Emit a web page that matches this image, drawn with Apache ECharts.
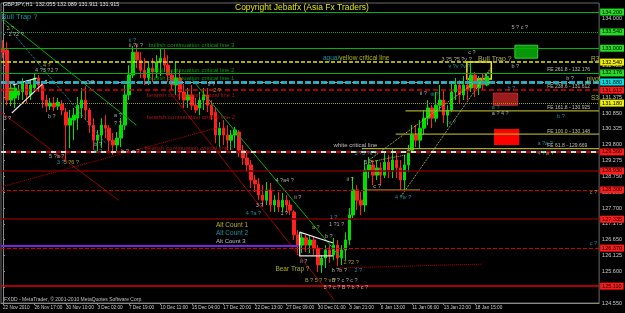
<!DOCTYPE html>
<html><head><meta charset="utf-8">
<script src="https://cdn.jsdelivr.net/npm/echarts@6/dist/echarts.min.js"></script>
<style>html,body{margin:0;padding:0;background:#000;}#c{width:625px;height:313px;}</style>
</head><body><div id="c"></div>
<script>
// ---------- data ----------
const dateLabels = ['22 Nov 2010','26 Nov 17:00','30 Nov 10:00','3 Dec 02:00','7 Dec 19:00','10 Dec 11:00','15 Dec 04:00','17 Dec 20:00','22 Dec 13:00','27 Dec 09:00','30 Dec 01:00','3 Jan 21:00','6 Jan 13:00','11 Jan 06:00','13 Jan 22:00','18 Jan 15:00'];
const candleOpen = [133.00,132.94,131.28,131.35,131.45,131.55,131.81,131.45,131.68,132.01,131.78,131.28,131.08,131.18,131.08,131.15,130.88,130.45,130.62,130.68,131.02,131.28,130.95,130.45,129.95,130.12,130.45,130.35,129.95,129.79,130.02,130.45,131.45,132.11,132.87,132.61,132.27,132.01,132.34,132.21,132.54,132.67,132.44,132.11,131.78,132.01,131.55,131.28,131.45,131.11,131.02,131.28,131.45,131.11,130.88,130.12,130.35,130.12,129.95,130.12,130.22,129.62,129.36,129.13,128.63,128.50,128.13,127.96,128.30,127.80,127.96,127.73,127.96,127.80,127.57,126.81,126.47,126.71,126.47,126.64,126.37,125.81,126.04,126.31,126.14,126.47,126.04,126.31,126.64,127.47,128.30,127.96,127.80,128.96,129.13,128.79,129.03,128.79,129.22,128.96,129.29,129.03,128.63,129.13,129.62,130.12,129.95,130.35,130.68,131.02,130.68,131.11,131.28,130.78,130.95,131.55,131.78,131.45,131.78,131.68,132.11,131.68,131.94,131.78];
const candleClose = [132.87,131.28,131.68,131.68,131.61,131.88,131.45,131.78,132.01,131.78,131.28,131.08,131.18,131.05,131.21,130.95,130.45,130.68,130.78,131.11,131.28,130.95,130.45,129.95,130.12,130.45,130.35,129.95,129.79,130.02,130.45,131.45,132.11,132.87,132.61,132.27,132.01,132.34,132.21,132.54,132.67,132.44,132.11,131.78,132.01,131.55,131.28,131.45,131.11,130.95,131.28,131.45,131.11,130.78,130.12,130.35,130.12,129.95,130.12,130.29,129.62,129.36,129.13,128.63,128.50,128.13,127.96,128.30,127.80,127.96,127.73,127.96,127.80,127.63,126.81,126.47,126.71,126.47,126.64,126.37,125.81,126.04,126.31,126.14,126.47,126.04,126.31,126.64,127.47,128.30,127.96,127.80,128.96,129.13,128.79,129.03,128.79,129.22,128.96,129.29,129.03,128.63,129.13,129.62,130.12,129.95,130.35,130.68,131.02,130.68,131.11,131.28,130.78,130.95,131.55,131.78,131.45,131.78,131.61,132.11,131.68,131.94,131.78,132.06];
const candleLow = [132.67,131.11,131.08,131.02,131.28,131.28,131.18,131.28,131.55,131.55,131.02,130.88,130.95,130.92,130.95,130.78,129.29,129.69,129.95,130.29,130.68,130.62,130.19,129.62,129.52,129.69,130.02,129.56,129.46,129.56,129.72,130.29,131.28,132.01,132.34,132.01,131.78,131.78,131.88,132.01,132.08,132.21,131.88,131.61,131.45,131.28,131.02,131.02,130.95,130.85,130.78,130.95,130.88,130.62,129.85,129.72,129.79,129.62,129.62,129.69,129.39,129.13,128.89,128.36,128.23,127.96,127.73,127.80,127.57,127.57,127.57,127.57,127.57,127.47,126.64,126.14,126.21,126.24,126.21,126.14,125.58,125.55,125.71,125.88,125.97,125.78,125.81,125.97,126.47,127.37,127.63,127.47,127.57,128.69,128.46,128.63,128.46,128.69,128.69,128.69,128.69,128.30,128.30,128.89,129.56,129.72,129.69,130.12,130.45,130.35,130.55,130.95,130.52,130.39,130.88,131.28,131.18,131.28,131.28,131.55,131.38,131.45,131.61,131.74];
const candleHigh = [133.27,133.20,131.88,131.81,131.78,132.01,131.94,131.94,132.18,132.11,131.88,131.45,131.35,131.38,131.35,131.28,131.02,130.95,131.02,131.38,131.68,131.74,131.02,130.68,130.29,130.68,130.78,130.45,130.19,130.22,130.68,131.78,132.44,133.07,133.10,132.87,132.67,132.54,132.67,132.77,133.00,133.00,132.77,132.27,132.54,132.27,131.81,131.68,131.78,131.35,131.55,131.68,131.68,131.28,131.02,130.55,130.62,130.45,130.29,130.39,130.29,129.79,129.62,129.29,128.79,128.69,128.46,128.56,128.53,128.13,128.23,128.20,128.13,127.96,127.63,126.97,126.87,126.81,126.77,126.74,126.47,126.14,126.47,126.47,126.71,126.64,126.47,126.90,127.70,128.73,128.46,128.23,129.29,129.39,129.29,129.29,129.22,129.56,129.46,129.69,129.52,129.29,129.46,129.79,130.45,130.45,130.62,130.95,131.28,131.11,131.55,131.78,131.61,131.11,131.88,132.01,131.94,132.08,132.21,132.54,132.21,132.08,132.18,132.18];
const levelPrices = [134.20,133.54,133.00,132.54,132.176,131.88,131.612,131.18,129.56,128.93,128.30,127.335,126.37,125.11];
const feRatios = ['261.8','238.6','161.8','100.0','61.8'];
const feValues = [132.176,131.612,130.925,130.148,129.669];
const feLineStart = [null,null,102.3,99.8,91.2];
const purpleLine = [[-0.5,126.44],[75.1,126.44]];
const greenLines = [[[-0.25,134.00],[33.9,130.45]],[[48.2,131.94],[85.9,126.04]]];
const tealDotLines = [[[-0.25,133.93],[26.1,129.85]]];
const darkRedLines = [[[42.0,131.61],[84.2,124.65]],[[-0.5,130.88],[29.4,127.96]]];
const redDotLines = [[[-0.5,128.40],[55.3,130.39]],[[84.7,125.71],[121.6,125.84]]];
const whiteLines = [[[2.5,131.78],[8.55,132.01]],[[2.26,130.85],[11.06,131.94]],[[83.9,126.54],[75.4,126.90],[75.4,126.11],[83.9,126.11]]];
const yellowLines = [[[93.0,129.29],[124.1,132.27]],[[101.0,128.06],[124.1,132.37]],[[93.0,129.22],[102.3,129.46]]];
const oliveLines = [[[92.2,128.30],[106.0,128.30]]];
const zones = [[[130.1,133.10],[135.9,132.67]],[[124.6,131.51],[130.8,131.11]],[[124.8,130.32],[131.2,129.79]],[[117.9,132.54],[124.1,131.98]]];
const whiteText = [[1.26,133.44,'2 ?2 ?'],[8.04,132.27,'4 ?3 ?2 ?'],[21.1,131.88,'2 ?'],[0.0,130.68,'3 ?'],[11.3,130.75,'b ?'],[11.6,129.42,'5 ?a ?'],[23.1,129.82,'b ?'],[28.1,130.78,'a ?'],[29.9,129.56,'b ?  a ?'],[31.9,133.10,'ii ?ii ?'],[52.0,131.81,'ii ?'],[69.1,128.63,'4 ?a4 ?'],[64.1,127.80,'3 ?'],[70.4,127.53,'1 ?'],[73.9,128.06,'ii ?'],[87.2,128.66,'ii ?'],[91.7,129.22,'5 ?'],[94.0,128.40,'c ?'],[105.8,131.51,'ii ?'],[118.1,132.87,'c ?'],[129.1,133.70,'5 ? c ?'],[129.1,132.41,'b ?'],[143.0,131.98,'b ?'],[124.1,130.82,'a ? 4 ?'],[75.4,125.94,'ii ?'],[83.4,125.64,'b ?b ?'],[83.4,125.31,'B ? c ? c ?'],[82.7,127.17,'1 ?1 ?'],[81.7,126.77,'b ?'],[111.3,132.64,'3 ?5 ?5 ?v ?'],[81.4,125.05,'5 ? c ? B ? b ? c ?']];
const tealText = [[31.9,133.27,'ii ?'],[13.6,129.22,'3 ?'],[23.1,129.56,'b ?'],[61.6,127.53,'4 ?a ?'],[89.2,129.52,'3 ?3 ?ii ?'],[99.5,128.06,'4 ?iv ?'],[112.8,130.55,'iv ?'],[108.5,131.45,'iii ?'],[113.1,132.41,'v ?v ?v ?'],[128.1,131.68,'b ?'],[124.1,131.05,'a ?'],[140.7,130.75,'b ?'],[135.7,129.85,'a ?a ?'],[135.7,129.52,'4 ?'],[149.0,126.51,'c ?'],[89.2,125.64,'2 ?'],[82.9,127.40,'1 ?']];
const yellowText = [[0.76,133.67,'2 ?'],[10.05,132.44,'4 ?'],[15.3,129.22,'5 ?6 ?'],[28.1,130.52,'? ?'],[53.3,131.61,'2 ?'],[137.9,129.52,'a ?'],[149.0,128.20,'c ?'],[86.4,125.91,'2 ?2 ?'],[78.4,127.04,'a ?'],[76.6,125.31,'B ? 5 ? ? v ?']];
const bullishText = [[36.9,133.10,'bullish continuation critical line 3'],[36.9,132.27,'bullish continuation critical line 2'],[36.9,132.01,'bullish continuation critical line 1']];
const bearishText = [[36.4,131.45,'bearish continuation critical line 1'],[36.4,130.72,'bearish continuation critical line 2'],[35.9,129.69,'bearish continuation critical line 3']];
const bigText = [[54.0,127.14,'Alt Count 1'],[54.0,126.87,'Alt Count 2'],[54.0,126.61,'Alt Count 3'],[69.1,125.68,'Bear Trap ?'],[-0.5,134.03,'Bull Trap ?'],[120.6,132.64,'Bull Trap ?'],[83.9,129.79,'white critical line'],[81.2,132.67,'aqua/yellow critical line']];
const pivotText = [[149.3,132.64,'R3'],[148.2,131.98,'pivot'],[149.3,131.35,'S3']];

// ---------- build ----------
const NCAT = 152;
const cats = Array.from({length: NCAT}, (_, i) => 'c' + i);
const FONT = 'Liberation Sans';
const levelStyle = [
  {c:'#00b400', w:1, t:'solid', bg:'#22dd22'},
  {c:'#159a55', w:1, t:'dotted', bg:'#22dd22'},
  {c:'#00b400', w:1, t:'solid', bg:'#22dd22'},
  {c:'#e6e600', w:1.5, t:[4,2], bg:'#eeee00'},
  {c:'#00b400', w:1, t:'solid', bg:'#22dd22'},
  {c:'#1ea8b8', w:3, t:[6,2], bg:'#00e0e0'},
  {c:'#e00000', w:1.5, t:[5,3], bg:'#ff1a1a'},
  {c:'#a0a000', w:1, t:'dotted', bg:'#eeee00'},
  {c:'#c00000', w:2, t:'solid', bg:'#ff1a1a'},
  {c:'#7a0000', w:1.5, t:'solid', bg:'#ff1a1a'},
  {c:'#d00000', w:1, t:[4,2], bg:'#ff1a1a'},
  {c:'#7a0000', w:1.5, t:'solid', bg:'#ff1a1a'},
  {c:'#d00000', w:1, t:[4,2], bg:'#ff1a1a'},
  {c:'#e00000', w:1.5, t:'solid', bg:'#ff1a1a'}
];
const levelMarks = levelPrices.map((p, i) => ({
  yAxis: p,
  lineStyle: {color: levelStyle[i].c, width: levelStyle[i].w, type: levelStyle[i].t},
  label: {show: true, position: 'end', distance: 1, formatter: p.toFixed(3), backgroundColor: levelStyle[i].bg,
          color: '#000', fontSize: 5.5, fontFamily: FONT, padding: [1, 2, 0, 2]}
}));
levelMarks.push({yAxis: levelPrices[8], lineStyle: {color: '#d8d8d8', width: 2, type: [5, 5]}, label: {show: false}});
levelMarks.push({yAxis: levelPrices[5], lineStyle: {color: '#8aa0b0', width: 1, type: [3, 6]}, label: {show: false}});

const series = [];
series.push({
  type: 'candlestick', xAxisIndex: 0, yAxisIndex: 0, barWidth: 3,
  data: candleOpen.map((o, i) => [o, candleClose[i], candleLow[i], candleHigh[i]]),
  itemStyle: {color: '#00e000', color0: '#ff2020', borderColor: '#00e000', borderColor0: '#ff2020', borderWidth: 1},
  markLine: {symbol: 'none', silent: true, animation: false, data: levelMarks}
});
function addLines(group, style) {
  group.forEach(pts => series.push({type: 'line', xAxisIndex: 1, yAxisIndex: 0, data: pts, showSymbol: false, symbol: 'none',
    silent: true, lineStyle: style, z: 3}));
}
addLines(greenLines, {color: '#00b000', width: 1});
addLines(tealDotLines, {color: '#20a0b0', width: 1, type: 'dotted'});
addLines(darkRedLines, {color: '#9a0000', width: 1});
addLines(redDotLines, {color: '#c00000', width: 1, type: 'dotted'});
addLines(whiteLines, {color: '#e8e8e8', width: 1.2});
addLines(yellowLines, {color: '#c8c840', width: 1, type: 'dotted'});
addLines(oliveLines, {color: '#a0a020', width: 1});
addLines([purpleLine], {color: '#7a22e0', width: 2});
const feLines = [];
feValues.forEach((v, i) => { if (feLineStart[i] !== null) feLines.push([[feLineStart[i], v], [151.5, v]]); });
addLines(feLines, {color: '#a6a628', width: 1.2});

const zoneStyles = [
  {color: '#0a960a', borderColor: '#30d030', borderWidth: 1},
  {color: '#9a1c1c', borderColor: '#c03030', borderWidth: 1},
  {color: '#ff0000', borderWidth: 0},
  {color: 'rgba(0,0,0,0)', borderColor: '#e8e830', borderWidth: 1.5}
];
series.push({type: 'line', xAxisIndex: 1, yAxisIndex: 0, data: [], silent: true,
  markArea: {silent: true, data: zones.map((z, i) => [{coord: z[0], itemStyle: zoneStyles[i]}, {coord: z[1]}])}});

function addText(group, color, size, extra) {
  series.push({type: 'scatter', xAxisIndex: 1, yAxisIndex: 0, symbolSize: 1, clip: false, silent: true, z: 5,
    itemStyle: {color: 'rgba(0,0,0,0)'},
    data: group.map(g => ({value: [g[0], g[1]], name: g[2]})),
    label: Object.assign({show: true, position: 'right', distance: 0, formatter: '{b}', color: color, fontSize: size, fontFamily: FONT}, extra || {})});
}
addText(whiteText, '#d0d0d0', 5.5);
addText(tealText, '#22b4c4', 5.5);
addText(yellowText, '#c8c828', 5.5);
addText(bullishText, '#10b810', 6);
addText(bearishText, '#d01818', 6);
addText(pivotText, '#d8d830', 6.5);
series.push({type: 'scatter', xAxisIndex: 1, yAxisIndex: 0, symbolSize: 1, clip: false, silent: true, z: 5,
  itemStyle: {color: 'rgba(0,0,0,0)'},
  data: bigText.map(g => ({value: [g[0], g[1]], name: g[2]})),
  label: {show: true, position: 'right', distance: 0, fontFamily: FONT, fontSize: 6.5,
    formatter: p => {
      const n = p.name;
      if (n === 'aqua/yellow critical line') return '{a|aqua/}{y|yellow critical line}';
      if (n === 'Alt Count 1' || n === 'Bear Trap ?') return '{y|' + n + '}';
      if (n === 'Alt Count 2') return '{t|' + n + '}';
      if (n === 'Alt Count 3' || n === 'white critical line') return '{w|' + n + '}';
      if (p.dataIndex === 4) return '{tb|' + n + '}';
      return '{yb|' + n + '}';
    },
    rich: {
      a: {color: '#22b4c4', fontSize: 6.5, fontFamily: FONT},
      y: {color: '#d8d820', fontSize: 6.5, fontFamily: FONT},
      t: {color: '#22b4c4', fontSize: 6.5, fontFamily: FONT},
      w: {color: '#e0e0e0', fontSize: 6, fontFamily: FONT},
      tb: {color: '#22b4c4', fontSize: 7.5, fontFamily: FONT},
      yb: {color: '#d8d870', fontSize: 7, fontFamily: FONT}
    }}
});
series.push({type: 'scatter', xAxisIndex: 1, yAxisIndex: 0, symbolSize: 1, clip: false, silent: true, z: 5,
  itemStyle: {color: 'rgba(0,0,0,0)'},
  data: feValues.map((v, i) => ({value: [138.2, v], name: 'FE ' + feRatios[i] + ' - ' + v.toFixed(3)})),
  label: {show: true, position: 'right', distance: 0, offset: [0, -3], formatter: '{b}', color: '#e0e0c0', fontSize: 5, fontFamily: FONT}});

const chart = echarts.init(document.getElementById('c'), null, {renderer: 'canvas'});
chart.setOption({
  backgroundColor: '#000',
  animation: false,
  grid: {left: 1, right: 19, top: 3, bottom: 10, show: true, borderColor: '#6a6a6a', borderWidth: 1, containLabel: false},
  xAxis: [
    {type: 'category', data: cats, boundaryGap: true,
     axisLine: {lineStyle: {color: '#8a8a8a'}},
     axisTick: {show: true, length: 2, alignWithLabel: true, lineStyle: {color: '#8a8a8a'},
       interval: (i) => i % 8 === 0 && (i / 8) < dateLabels.length},
     axisLabel: {interval: 0, color: '#c8c8c8', fontSize: 4.7, fontFamily: FONT, margin: 2, align: 'left',
       formatter: (v, i) => (i % 8 === 0 && dateLabels[i / 8]) ? dateLabels[i / 8] : ''},
     splitLine: {show: false}},
    {type: 'value', min: -0.5, max: 151.5, show: false}
  ],
  yAxis: [{type: 'value', position: 'right', min: 124.55, max: 134.5, interval: 0.525, scale: true,
    axisLine: {show: true, lineStyle: {color: '#8a8a8a'}},
    axisTick: {show: true, length: 2, lineStyle: {color: '#8a8a8a'}},
    axisLabel: {color: '#c8c8c8', fontSize: 5.5, fontFamily: FONT, margin: 3, showMaxLabel: false,
      formatter: v => v.toFixed(3)},
    splitLine: {show: false}}],
  graphic: [
    {type: 'text', left: 235, top: 3, z: 10, style: {text: 'Copyright Jebatfx (Asia Fx Traders)', fill: '#e4e400', font: '8.5px "Liberation Sans"'}},
    {type: 'text', left: 3, top: 1, z: 10, style: {text: 'GBPJPY,H1  132.055 132.089 131.911 131.915', fill: '#e0e0e0', font: '5.5px "Liberation Sans"'}},
    {type: 'text', left: 4, top: 297, z: 10, style: {text: 'FXDD - MetaTrader, \u00a9 2001-2010 MetaQuotes Software Corp.', fill: '#c0c0c0', font: '5px "Liberation Sans"'}}
  ],
  series: series
});
</script>
</body></html>
